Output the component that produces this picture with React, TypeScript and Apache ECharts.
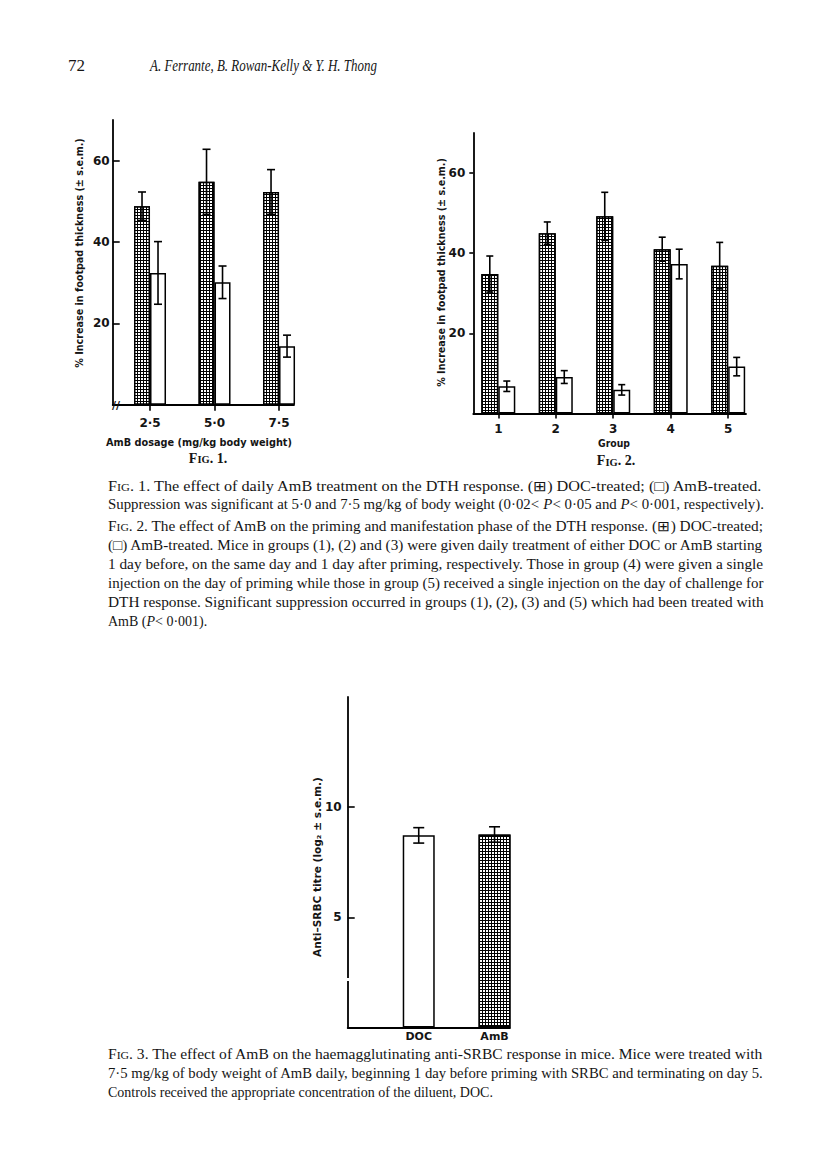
import React, { useEffect, useRef } from 'react';
import * as echarts from 'echarts';

// ---------- Fig. 1 data ----------
const fig1Doses = [2.5, 5.0, 7.5];
const fig1Doc = [48.8, 54.8, 52.3];
const fig1DocErr = [3.5, 8.0, 5.5];
const fig1Amb = [32.4, 30.1, 14.4];
const fig1AmbErr = [7.7, 4.0, 2.7];
const fig1YTicks = [20, 40, 60];

// ---------- Fig. 2 data ----------
const fig2Groups = [1, 2, 3, 4, 5];
const fig2Doc = [34.8, 45.0, 49.2, 41.0, 36.9];
const fig2DocErr = [4.5, 2.8, 6.0, 3.0, 5.8];
const fig2Amb = [6.8, 9.1, 5.9, 37.3, 11.7];
const fig2AmbErr = [1.3, 1.6, 1.3, 3.7, 2.3];
const fig2YTicks = [20, 40, 60];

// ---------- Fig. 3 data ----------
const fig3Categories = ['DOC', 'AmB'];
const fig3Positions = [1, 2];
const fig3Values = [8.72, 8.76];
const fig3Err = [0.35, 0.35];
const fig3YTicks = [5, 10];

// ---------- texts ----------
const pageNumber = '72';
const runningHead = 'A. Ferrante, B. Rowan-Kelly & Y. H. Thong';
const fig1YName = '% Increase in footpad thickness (± s.e.m.)';
const fig1XName = 'AmB dosage (mg/kg body weight)';
const fig2YName = '% Increase in footpad thickness (± s.e.m.)';
const fig2XName = 'Group';
const fig3YName = 'Anti\u2013SRBC titre (log\u2082 ± s.e.m.)';

const caption1 = [
  'FIG. 1. The effect of daily AmB treatment on the DTH response. (\u229e) DOC-treated; (\u25a1) AmB-treated.',
  'Suppression was significant at 5·0 and 7·5 mg/kg of body weight (0·02< P< 0·05 and P< 0·001, respectively).',
];
const caption2 = [
  'FIG. 2. The effect of AmB on the priming and manifestation phase of the DTH response. (\u229e) DOC-treated;',
  '(\u25a1) AmB-treated. Mice in groups (1), (2) and (3) were given daily treatment of either DOC or AmB starting',
  '1 day before, on the same day and 1 day after priming, respectively. Those in group (4) were given a single',
  'injection on the day of priming while those in group (5) received a single injection on the day of challenge for',
  'DTH response. Significant suppression occurred in groups (1), (2), (3) and (5) which had been treated with',
  'AmB (P< 0·001).',
];
const caption3 = [
  'FIG. 3. The effect of AmB on the haemagglutinating anti-SRBC response in mice. Mice were treated with',
  '7·5 mg/kg of body weight of AmB daily, beginning 1 day before priming with SRBC and terminating on day 5.',
  'Controls received the appropriate concentration of the diluent, DOC.',
];

const INK = '#151515';
const SERIF = 'Liberation Serif';
const SANS = 'DejaVu Sans';

const darkStyle = {
  color: '#000',
  borderColor: '#000',
  borderWidth: 1.5,
  decal: {
    symbol: 'rect',
    symbolSize: 1,
    dashArrayX: [2, 1],
    dashArrayY: [2, 1],
    color: '#ffffff',
  },
};
const whiteStyle = { color: '#fff', borderColor: '#000', borderWidth: 1.5 };

const dotFmt = (v: number) => v.toFixed(1).replace('.', '·');

export default function App() {
  const ref = useRef<HTMLDivElement>(null);

  useEffect(() => {
    if (!ref.current) return;
    const chart = echarts.init(ref.current, null, { renderer: 'svg' });

    const ctx = document.createElement('canvas').getContext('2d')!;
    const measure = (text: string, font: string) => {
      ctx.font = font;
      return ctx.measureText(text).width;
    };

    // caption rich-text helpers
    const CAP_SIZE = 14;
    const capFonts: Record<string, string> = {
      n: `${CAP_SIZE}px "${SERIF}"`,
      i: `italic ${CAP_SIZE}px "${SERIF}"`,
      s: `${CAP_SIZE * 0.76}px "${SERIF}"`,
    };
    const capRich = {
      n: { fontFamily: SERIF, fontSize: CAP_SIZE, fill: INK, verticalAlign: 'bottom' },
      i: { fontFamily: SERIF, fontSize: CAP_SIZE, fontStyle: 'italic', fill: INK, verticalAlign: 'bottom' },
      s: { fontFamily: SERIF, fontSize: CAP_SIZE * 0.76, fill: INK, verticalAlign: 'bottom' },
    };
    const toSegs = (line: string): [string, string][] => {
      const segs: [string, string][] = [];
      let rest = line;
      if (rest.startsWith('FIG.')) {
        segs.push(['F', 'n'], ['IG', 's']);
        rest = rest.slice(3);
      }
      rest.split(/(P)(?=<)/).forEach((p) => {
        if (p === 'P') segs.push(['P', 'i']);
        else if (p) segs.push([p, 'n']);
      });
      return segs;
    };
    const CAP_LEFT = 108;
    const CAP_WIDTH = 656;
    const LINE_GAP = 19;
    const captionGraphics = (lines: string[], top: number) =>
      lines.map((line, idx) => {
        const segs = toSegs(line);
        const w = segs.reduce((s, [t, k]) => s + measure(t, capFonts[k]), 0);
        const justify = w > CAP_WIDTH * 0.8;
        return {
          type: 'text',
          x: CAP_LEFT,
          y: top + idx * LINE_GAP,
          scaleX: justify ? CAP_WIDTH / w : 1,
          style: {
            text: segs.map(([t, k]) => `{${k}|${t}}`).join(''),
            rich: capRich,
            align: 'left',
            verticalAlign: 'middle',
            textAlign: 'left',
            textVerticalAlign: 'middle',
          },
        };
      });

    // fitted plain text (optionally rotated)
    const fitted = (text: string, cx: number, cy: number, width: number, font: any, rotate = false) => {
      const f = `${font.fontStyle || ''} ${font.fontWeight || ''} ${font.fontSize}px "${font.fontFamily}"`;
      const w = measure(text, f);
      return {
        type: 'text',
        x: cx,
        y: cy,
        rotation: rotate ? Math.PI / 2 : 0,
        scaleX: width / w,
        style: {
          text,
          ...font,
          fill: INK,
          align: 'center',
          verticalAlign: 'middle',
          textAlign: 'center',
          textVerticalAlign: 'middle',
        },
      };
    };

    const figTitle = (num: string, cx: number, cy: number) => ({
      type: 'text',
      x: cx,
      y: cy,
      style: {
        text: `{a|F}{b|IG}{a|. ${num}.}`,
        rich: {
          a: { fontFamily: SERIF, fontSize: 14, fontWeight: 'bold', fill: INK, verticalAlign: 'bottom' },
          b: { fontFamily: SERIF, fontSize: 10.5, fontWeight: 'bold', fill: INK, verticalAlign: 'bottom' },
        },
        align: 'center',
        verticalAlign: 'middle',
        textAlign: 'center',
        textVerticalAlign: 'middle',
      },
    });

    const axisNameFont = { fontFamily: SANS, fontSize: 10.5, fontWeight: 'bold' };
    const labelFont = { fontFamily: SANS, fontSize: 12, fontWeight: 'bold', color: INK };
    const axisLine = { show: true, onZero: false, lineStyle: { color: '#000', width: 1.8 } };

    const yAxisDef = (gridIndex: number, max: number, ticks: number[], inside: boolean, len: number, margin: number) => ({
      type: 'value',
      gridIndex,
      min: 0,
      max,
      axisLine,
      axisTick: { show: true, inside, length: len, customValues: ticks, lineStyle: { color: '#000', width: 1.6 } },
      axisLabel: { customValues: ticks, margin, ...labelFont },
      splitLine: { show: false },
    });

    const errRender = (bw: number, cw: number) => (params: any, api: any) => {
      const x = api.value(0);
      const y = api.value(1);
      const e = api.value(2);
      const side = api.value(3);
      const c = api.coord([x, y]);
      const hi = api.coord([x, y + e]);
      const lo = api.coord([x, y - e]);
      const px = c[0] + (side * bw) / 2;
      const st = { stroke: '#000', lineWidth: 1.6 };
      return {
        type: 'group',
        children: [
          { type: 'line', shape: { x1: px, y1: hi[1], x2: px, y2: lo[1] }, style: st },
          { type: 'line', shape: { x1: px - cw, y1: hi[1], x2: px + cw, y2: hi[1] }, style: st },
          { type: 'line', shape: { x1: px - cw, y1: lo[1], x2: px + cw, y2: lo[1] }, style: st },
        ],
      };
    };

    const option: any = {
      animation: false,
      backgroundColor: '#fff',
      grid: [
        { left: 112.7, top: 120, width: 181.3, height: 284.7 },
        { left: 473.3, top: 133, width: 272.7, height: 280.5 },
        { left: 347.7, top: 697, width: 162.3, height: 330.5 },
      ],
      xAxis: [
        {
          type: 'value',
          gridIndex: 0,
          min: 1.054,
          max: 8.08,
          axisLine,
          axisTick: { show: true, length: 6, customValues: fig1Doses, lineStyle: { color: '#000', width: 1.6 } },
          axisLabel: { customValues: fig1Doses, formatter: dotFmt, margin: 12, ...labelFont },
          splitLine: { show: false },
        },
        {
          type: 'value',
          gridIndex: 1,
          min: 0.565,
          max: 5.31,
          axisLine,
          axisTick: { show: true, length: 5, customValues: fig2Groups, lineStyle: { color: '#000', width: 1.6 } },
          axisLabel: { customValues: fig2Groups, margin: 9, ...labelFont },
          splitLine: { show: false },
        },
        {
          type: 'value',
          gridIndex: 2,
          min: 0.063,
          max: 2.204,
          axisLine,
          axisTick: { show: false },
          axisLabel: {
            customValues: fig3Positions,
            formatter: (v: number) => fig3Categories[fig3Positions.indexOf(v)],
            margin: 3,
            ...labelFont,
            fontSize: 11,
          },
          splitLine: { show: false },
        },
      ],
      yAxis: [
        yAxisDef(0, 70, fig1YTicks, true, 7, 3),
        yAxisDef(1, 70, fig2YTicks, false, 4, 8),
        yAxisDef(2, 15, fig3YTicks, true, 7, 6),
      ],
      series: [
        {
          name: 'DOC-treated',
          type: 'bar',
          xAxisIndex: 0,
          yAxisIndex: 0,
          barWidth: 16,
          barGap: '0%',
          itemStyle: darkStyle,
          data: fig1Doses.map((d, i) => [d, fig1Doc[i]]),
        },
        {
          name: 'AmB-treated',
          type: 'bar',
          xAxisIndex: 0,
          yAxisIndex: 0,
          barWidth: 16,
          barGap: '0%',
          itemStyle: whiteStyle,
          data: fig1Doses.map((d, i) => [d, fig1Amb[i]]),
        },
        {
          type: 'custom',
          xAxisIndex: 0,
          yAxisIndex: 0,
          z: 10,
          renderItem: errRender(16, 4),
          data: fig1Doses.flatMap((d, i) => [
            [d, fig1Doc[i], fig1DocErr[i], -1],
            [d, fig1Amb[i], fig1AmbErr[i], 1],
          ]),
        },
        {
          name: 'DOC-treated',
          type: 'bar',
          xAxisIndex: 1,
          yAxisIndex: 1,
          barWidth: 17,
          barGap: '0%',
          itemStyle: darkStyle,
          data: fig2Groups.map((g, i) => [g, fig2Doc[i]]),
        },
        {
          name: 'AmB-treated',
          type: 'bar',
          xAxisIndex: 1,
          yAxisIndex: 1,
          barWidth: 17,
          barGap: '0%',
          itemStyle: whiteStyle,
          data: fig2Groups.map((g, i) => [g, fig2Amb[i]]),
        },
        {
          type: 'custom',
          xAxisIndex: 1,
          yAxisIndex: 1,
          z: 10,
          renderItem: errRender(17, 3.5),
          data: fig2Groups.flatMap((g, i) => [
            [g, fig2Doc[i], fig2DocErr[i], -1],
            [g, fig2Amb[i], fig2AmbErr[i], 1],
          ]),
        },
        {
          type: 'bar',
          xAxisIndex: 2,
          yAxisIndex: 2,
          barWidth: 32,
          data: fig3Positions.map((p, i) => ({
            value: [p, fig3Values[i]],
            itemStyle: i === 0 ? whiteStyle : darkStyle,
          })),
        },
        {
          type: 'custom',
          xAxisIndex: 2,
          yAxisIndex: 2,
          z: 10,
          renderItem: errRender(0, 5.5),
          data: fig3Positions.map((p, i) => [p, fig3Values[i], fig3Err[i], 0]),
        },
      ],
      graphic: [
        {
          type: 'text',
          x: 68,
          y: 65,
          style: { text: pageNumber, fontFamily: SERIF, fontSize: 17, fill: INK, verticalAlign: 'middle', textVerticalAlign: 'middle' },
        },
        (() => {
          const font = { fontFamily: SERIF, fontSize: 17, fontStyle: 'italic' };
          const w = measure(runningHead, `italic 17px "${SERIF}"`);
          return {
            type: 'text',
            x: 150,
            y: 65,
            scaleX: 227 / w,
            style: { text: runningHead, ...font, fill: INK, verticalAlign: 'middle', textVerticalAlign: 'middle' },
          };
        })(),
        fitted(fig1YName, 79, 253, 230, axisNameFont, true),
        fitted(fig1XName, 199, 442, 186, axisNameFont),
        figTitle('1', 208, 458),
        fitted(fig2YName, 441.7, 272.5, 229, axisNameFont, true),
        fitted(fig2XName, 614, 443.5, 32, axisNameFont),
        figTitle('2', 616, 460.5),
        fitted(fig3YName, 317, 867, 180, axisNameFont, true),
        {
          type: 'text',
          x: 116,
          y: 405,
          style: { text: '//', fontFamily: SANS, fontSize: 11, fontWeight: 'bold', fill: INK, align: 'center', verticalAlign: 'middle', textAlign: 'center', textVerticalAlign: 'middle' },
          z: 20,
        },
        { type: 'rect', shape: { x: 345, y: 978, width: 5, height: 3 }, style: { fill: '#fff' }, z: 20 },
        ...captionGraphics(caption1, 485.5),
        ...captionGraphics(caption2, 526),
        ...captionGraphics(caption3, 1054),
      ],
    };

    chart.setOption(option);
    return () => chart.dispose();
  }, []);

  return (
    <div
      ref={ref}
      style={{ position: 'absolute', left: 0, top: 0, width: 816, height: 1166, background: '#fff' }}
    />
  );
}
